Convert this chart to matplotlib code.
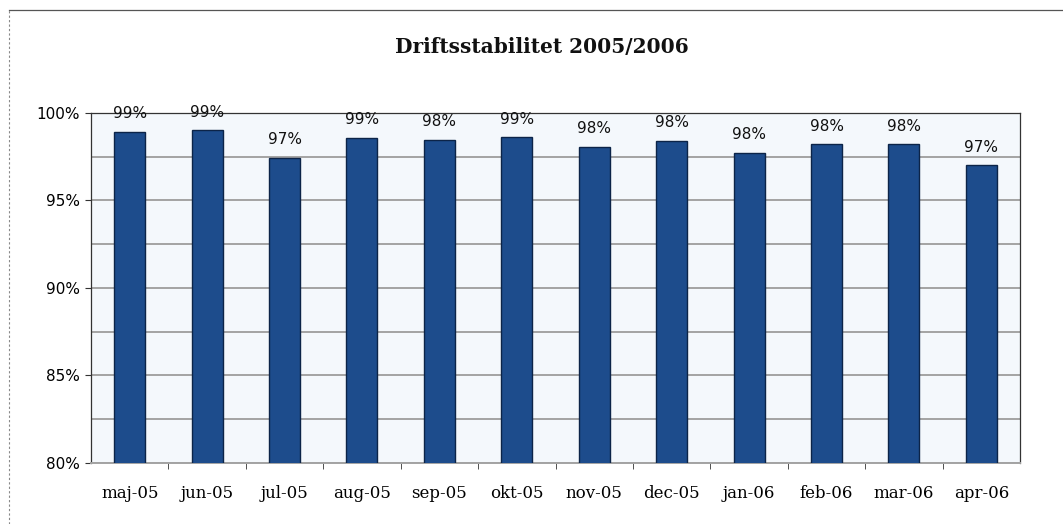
import matplotlib
matplotlib.use("Agg")
import matplotlib.pyplot as plt
from matplotlib.lines import Line2D

months = ["maj-05", "jun-05", "jul-05", "aug-05", "sep-05", "okt-05",
          "nov-05", "dec-05", "jan-06", "feb-06", "mar-06", "apr-06"]
values = [98.9, 99.0, 97.45, 98.55, 98.45, 98.6, 98.06, 98.4, 97.7, 98.2, 98.2, 97.0]
labels = ["99%", "99%", "97%", "99%", "98%", "99%", "98%", "98%", "98%", "98%", "98%", "97%"]
yticks = [80, 85, 90, 95, 100]
ytick_labels = ["80%", "85%", "90%", "95%", "100%"]
title = "Driftsstabilitet 2005/2006"

fig = plt.figure(figsize=(10.63, 5.24), dpi=100)
ax = fig.add_axes([0.0856, 0.1164, 0.874, 0.668])
ax.set_facecolor("#f4f8fc")

x = list(range(len(months)))
ax.bar(x, values, width=0.40, color="#1d4c8c", edgecolor="#0c2448", linewidth=1.0, zorder=3)

ax.set_ylim(80, 100)
ax.set_xlim(-0.5, len(months) - 0.5)
ax.set_yticks(yticks)
ax.set_yticklabels(ytick_labels, fontsize=11, family="DejaVu Sans")
ax.set_yticks([82.5, 87.5, 92.5, 97.5], minor=True)
ax.grid(axis="y", which="both", color="#a3a3a3", linewidth=1.4, zorder=1)
ax.set_xticks(x)
ax.set_xticklabels(months, fontsize=12, family="DejaVu Serif")
ax.set_xticks([i + 0.5 for i in x[:-1]], minor=True)
ax.tick_params(axis="x", which="major", length=0, pad=16)
ax.tick_params(axis="x", which="minor", length=4, color="#333333")
ax.tick_params(axis="y", which="major", length=4, color="#333333", pad=4)
ax.tick_params(axis="y", which="minor", length=0)

for s in ax.spines.values():
    s.set_color("#333333")
    s.set_linewidth(0.9)
ax.spines["bottom"].set_color("#a3a3a3")
ax.spines["bottom"].set_linewidth(1.4)

for xi, v, lab in zip(x, values, labels):
    ax.annotate(lab, (xi, v), xytext=(0, 10), textcoords="offset points",
                ha="center", va="baseline", fontsize=11, family="DejaVu Sans",
                color="#111111", zorder=4)

fig.text(0.51, 0.91, title, ha="center", va="center", fontsize=14.5,
         fontweight="bold", family="DejaVu Serif", color="#111111")

# outer chart frame
fig.add_artist(Line2D([0.008, 0.999], [0.98, 0.98], transform=fig.transFigure,
                      color="#555555", linewidth=0.9))
fig.add_artist(Line2D([0.008, 0.008], [0.0, 0.98], transform=fig.transFigure,
                      color="#888888", linewidth=0.8, linestyle=(0, (2, 2))))

fig.savefig("out.png", dpi=100)
